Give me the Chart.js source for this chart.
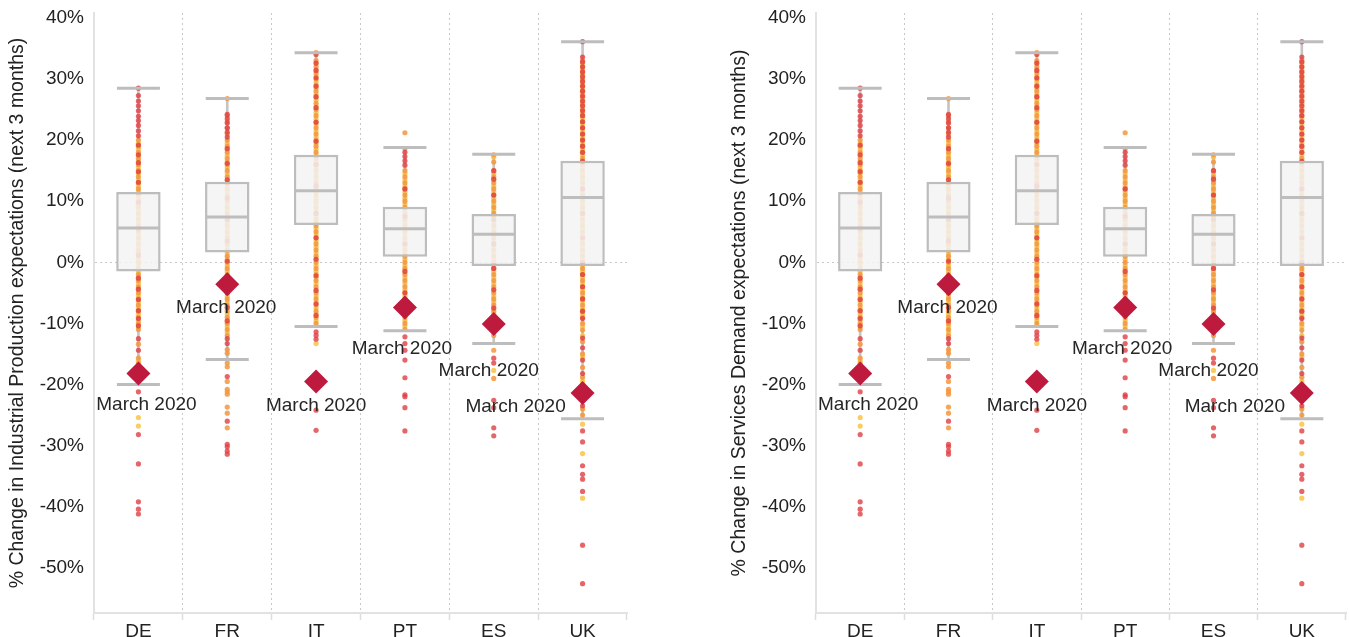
<!DOCTYPE html>
<html>
<head>
<meta charset="utf-8">
<script src="https://cdn.jsdelivr.net/npm/chart.js@4"></script>
<style>
  body { margin: 0; background: #fff; }
  canvas { position: absolute; top: 0; }
  #left { left: 0; }
  #right { left: 722px; }
</style>
</head>
<body>
<canvas id="left" width="630" height="637"></canvas>
<canvas id="right" width="627" height="637"></canvas>
<script>
// countries on the x axis
const categories = ["DE", "FR", "IT", "PT", "ES", "UK"];

// box plot stats (%)
const boxQ1 = [-1.5, 1.6, 6.1, 0.9, -0.6, -0.6];
const boxQ3 = [11.5, 13.2, 17.6, 9.1, 7.9, 16.6];
const medians = [5.6, 7.4, 11.7, 5.5, 4.6, 10.6];
const whiskerLow = [-20.0, -15.9, -10.5, -11.2, -13.3, -25.6];
const whiskerHigh = [28.5, 26.8, 34.3, 18.8, 17.7, 36.1];

// March 2020 observation
const march2020 = [-18.2, -3.6, -19.5, -7.4, -10.1, -21.4];

const yTicks = [-50, -40, -30, -20, -10, 0, 10, 20, 30, 40];

// individual observations, by colour
const deRed = [28.5, 27.3, 26.4, 25.6, 24.8, 23.9, 23.2, 22.4, 21.5, 20.7, 19.2, 17.6, 16.3, 14.8, 13.1, 9.8, 5.5, 1.2, -2.6, -4.4, -6.1, -7.9, -9.2, -10.4, -12.5, -14.4, -21.2, -28.2, -33.0, -39.2, -40.4, -41.2];
const deOrange = [20, 19, 18, 17, 16, 15, 14, 13, 12, 11, 10, 9, 8, 7, 6, 5, 4, 3, 2, 1, 0, -1, -2, -3, -4, -5, -6, -7, -8, -9, -10, -11, -13.4, -15.7, -16.6, -17.4, -18.3, -19.2];
const deYellow = [19.5, 18.5, 17.5, 16.5, 15.5, 14.5, 13.5, 12.5, 11.5, 10.5, 9.5, 8.5, 7.5, 6.5, 5.5, 4.5, 3.5, 2.5, 1.5, 0.5, -0.5, -1.5, -2.5, -3.5, -4.5, -5.5, -6.5, -7.5, -8.5, -9.5, -10.5, -16.2, -25.4, -26.8];

const frRed = [24.2, 23.5, 22.8, 22.0, 21.3, 20.5, 18.6, 16.2, 13.5, 10.5, 7.0, 3.5, 0.2, -2.5, -5.0, -7.4, -9.6, -12.5, -13.3, -18.7, -26.0, -29.8, -30.2, -30.9, -31.4];
const frOrange = [26.8, 24, 23, 22, 21, 20, 19, 18, 17, 16, 15, 14, 13, 12, 11, 10, 9, 8, 7, 6, 5, 4, 3, 2, 1, 0, -1, -2, -3, -4, -5, -6, -7, -8, -9, -10, -11, -12, -14.3, -14.9, -16.5, -17.1, -19.5, -20.8, -21.2, -21.6, -23.7, -24.7, -27.1];
const frYellow = [19.5, 18.5, 17.5, 16.5, 15.5, 14.5, 13.5, 12.5, 11.5, 10.5, 9.5, 8.5, 7.5, 6.5, 5.5, 4.5, 3.5, 2.5, 1.5, 0.5, -0.5, -1.5, -2.5, -3.5, -4.5, -5.5, -6.5, -7.5, -8.5, -9.5, -10.5, -11.5];

const itRed = [34.0, 32.6, 31.4, 30.2, 28.8, 27.1, 25.3, 22.9, 19.8, 16.0, 12.5, 8.0, 4.0, 0.5, -2.2, -4.6, -6.8, -8.7, -11.4, -12.0, -12.6, -24.2, -27.5];
const itOrange = [34.3, 33, 32, 31, 30, 29, 28, 27, 26, 25, 24, 23, 22, 21, 20, 19, 18, 17, 16, 15, 14, 13, 12, 11, 10, 9, 8, 7, 6, 5, 4, 3, 2, 1, 0, -1, -2, -3, -4, -5, -6, -7, -8, -9, -10, -18.9, -20.1];
const itYellow = [32.5, 31.5, 30.5, 29.5, 28.5, 27.5, 26.5, 25.5, 24.5, 23.5, 22.5, 21.5, 20.5, 19.5, 18.5, 17.5, 16.5, 15.5, 14.5, 13.5, 12.5, 11.5, 10.5, 9.5, 8.5, 7.5, 6.5, 5.5, 4.5, 3.5, 2.5, 1.5, 0.5, -0.5, -1.5, -2.5, -3.5, -4.5, -5.5, -6.5, -7.5, -8.5, -9.5, -13.3];

const ptRed = [18.0, 17.3, 16.6, 15.9, 12.0, 7.5, 3.0, -1.5, -5.0, -8.5, -12.2, -13.3, -14.4, -16.0, -18.9, -21.7, -22.0, -23.8, -27.6];
const ptOrange = [21.2, 18.6, 15, 14, 13, 12, 11, 10, 9, 8, 7, 6, 5, 4, 3, 2, 1, 0, -1, -2, -3, -4, -5, -6, -7, -8, -9, -10, -11];
const ptYellow = [14.5, 13.5, 12.5, 11.5, 10.5, 9.5, 8.5, 7.5, 6.5, 5.5, 4.5, 3.5, 2.5, 1.5, 0.5, -0.5, -1.5, -2.5, -3.5, -4.5, -5.5, -6.5, -7.5, -8.5, -9.5, -10.5];

const esRed = [15.0, 13.6, 11.0, 7.0, 3.0, -1.0, -4.5, -7.5, -10.2, -15.7, -16.5, -22.6, -23.8, -27.1, -28.4];
const esOrange = [17.6, 16.4, 15, 14, 13, 12, 11, 10, 9, 8, 7, 6, 5, 4, 3, 2, 1, 0, -1, -2, -3, -4, -5, -6, -7, -8, -9, -10, -11, -12, -14.4, -19.0];
const esYellow = [17.2, 14.5, 13.5, 12.5, 11.5, 10.5, 9.5, 8.5, 7.5, 6.5, 5.5, 4.5, 3.5, 2.5, 1.5, 0.5, -0.5, -1.5, -2.5, -3.5, -4.5, -5.5, -6.5, -7.5, -8.5, -9.5, -10.5, -11.5, -17.7];

const ukRed = [36.1, 33.6, 32.8, 32.0, 31.2, 30.4, 29.6, 28.8, 28.0, 27.2, 26.4, 25.6, 24.8, 24.0, 23.0, 22.0, 21.0, 20.0, 19.0, 18.0, 16.5, 12.0, 8.0, 4.0, 0.0, -2.0, -4.0, -6.0, -8.0, -9.2, -12.4, -14.0, -16.0, -18.2, -20.6, -23.5, -27.6, -29.4, -33.3, -34.7, -35.5, -37.5, -46.3, -52.6];
const ukOrange = [33, 32, 31, 30, 29, 28, 27, 26, 25, 24, 23, 22, 21, 20, 19, 18, 17, 16, 15, 14, 13, 12, 11, 10, 9, 8, 7, 6, 5, 4, 3, 2, 1, 0, -1, -2, -3, -4, -5, -6, -7, -8, -9, -10.0, -11.1, -13.0, -15.0, -17.2, -18.8, -20.0, -22.0, -24.0, -25.0];
const ukYellow = [32.5, 31.5, 30.5, 29.5, 28.5, 27.5, 26.5, 25.5, 24.5, 23.5, 22.5, 21.5, 20.5, 19.5, 18.5, 17.5, 16.5, 15.5, 14.5, 13.5, 12.5, 11.5, 10.5, 9.5, 8.5, 7.5, 6.5, 5.5, 4.5, 3.5, 2.5, 1.5, 0.5, -0.5, -1.5, -2.5, -3.5, -4.5, -5.5, -6.5, -7.5, -8.5, -10.5, -12.0, -15.5, -19.5, -22.5, -26.5, -31.3, -38.6];

const redPts = [deRed, frRed, itRed, ptRed, esRed, ukRed];
const orangePts = [deOrange, frOrange, itOrange, ptOrange, esOrange, ukOrange];
const yellowPts = [deYellow, frYellow, itYellow, ptYellow, esYellow, ukYellow];

const FONT = "'Liberation Sans', Arial, sans-serif";
const GREY = "#bdbdbd";

const toPoints = (lists) => lists.flatMap((vals, i) => vals.map(v => ({ x: categories[i], y: v })));

const markerDataset = (data, style, radius, extra) => Object.assign({
  type: "line",
  showLine: false,
  clip: false,
  data,
  pointStyle: style,
  pointRadius: radius,
  pointHoverRadius: radius,
  pointBorderWidth: 0
}, extra);

// "March 2020" annotations next to the diamonds
const marchLabels = {
  id: "marchLabels",
  afterDatasetsDraw(chart, args, opts) {
    const { ctx, scales } = chart;
    ctx.save();
    ctx.font = "19px " + FONT;
    ctx.fillStyle = "#262626";
    ctx.textAlign = "center";
    ctx.textBaseline = "middle";
    march2020.forEach((v, i) => {
      const x = scales.x.getPixelForValue(i) + opts.dx[i];
      const y = scales.y.getPixelForValue(v) + opts.dy[i];
      ctx.fillText("March 2020", x, y);
    });
    ctx.restore();
  }
};

const makeChart = (canvasId, yTitle) => {
  const datasets = [
    {
      type: "bar",
      data: categories.map((c, i) => [whiskerLow[i], whiskerHigh[i]]),
      backgroundColor: "#c4c4c4",
      barThickness: 2,
      grouped: false,
      order: 7
    },
    markerDataset(toPoints(yellowPts), "circle", 2.6, { pointBackgroundColor: "rgba(248,196,72,0.85)", order: 6 }),
    markerDataset(toPoints(orangePts), "circle", 2.6, { pointBackgroundColor: "rgba(245,150,62,0.85)", order: 5 }),
    markerDataset(toPoints(redPts), "circle", 2.6, { pointBackgroundColor: "rgba(224,62,66,0.8)", order: 4 }),
    {
      type: "bar",
      data: categories.map((c, i) => [boxQ1[i], boxQ3[i]]),
      backgroundColor: "rgba(243,243,243,0.86)",
      borderColor: GREY,
      borderWidth: 2.5,
      borderSkipped: false,
      barPercentage: 0.5,
      categoryPercentage: 1,
      grouped: false,
      order: 3
    },
    markerDataset(
      categories.flatMap((c, i) => [{ x: c, y: whiskerLow[i] }, { x: c, y: whiskerHigh[i] }]),
      "line", 21.5, { pointBorderWidth: 3, pointBorderColor: GREY, order: 2 }),
    markerDataset(categories.map((c, i) => ({ x: c, y: medians[i] })),
      "line", 21.5, { pointBorderWidth: 3, pointBorderColor: GREY, order: 2 }),
    markerDataset(categories.map((c, i) => ({ x: c, y: march2020[i] })),
      "rectRot", 12, { pointBackgroundColor: "#bd1a3e", order: 1 })
  ];

  return new Chart(document.getElementById(canvasId), {
    type: "bar",
    data: { labels: categories, datasets },
    plugins: [marchLabels],
    options: {
      responsive: false,
      animation: false,
      events: [],
      layout: { autoPadding: false, padding: { top: 13, right: 3, left: 0, bottom: 0 } },
      plugins: {
        legend: { display: false },
        tooltip: { enabled: false },
        marchLabels: { dx: [8, -1, 0, -3, -5, -67], dy: [31, 23, 24, 41, 47, 14] }
      },
      scales: {
        x: {
          type: "category",
          afterFit: s => { s.height = 24; s.paddingLeft = 0; s.paddingRight = 0; },
          grid: {
            offset: true,
            color: c => (c.index > 0 && c.index < categories.length) ? "#c8c8c8" : "transparent",
            lineWidth: 1,
            tickLength: 7,
            tickColor: "#dddddd",
            tickWidth: 1.5
          },
          border: { display: true, color: "#e2e2e2", width: 2, dash: [2, 3] },
          ticks: { color: "#222", font: { family: FONT, size: 19 }, padding: 0 }
        },
        y: {
          min: -57.4,
          max: 40.8,
          afterFit: s => { s.width = 94; s.paddingTop = 0; s.paddingBottom = 0; },
          afterBuildTicks: s => { s.ticks = yTicks.map(v => ({ value: v })); },
          grid: {
            color: c => (c.tick && c.tick.value === 0) ? "#c8c8c8" : "transparent",
            lineWidth: 1,
            drawTicks: false
          },
          border: { display: true, color: "#e2e2e2", width: 2, dash: [2, 3] },
          ticks: {
            color: "#222",
            font: { family: FONT, size: 19 },
            padding: 10,
            callback: v => v + "%"
          },
          title: {
            display: true,
            text: yTitle,
            color: "#222",
            font: { family: FONT, size: 19.5 },
            padding: { top: 6, bottom: 0 }
          }
        }
      }
    }
  });
};

makeChart("left", "% Change in Industrial Production expectations (next 3 months)");
makeChart("right", "% Change in Services Demand expectations (next 3 months)");
</script>
</body>
</html>
